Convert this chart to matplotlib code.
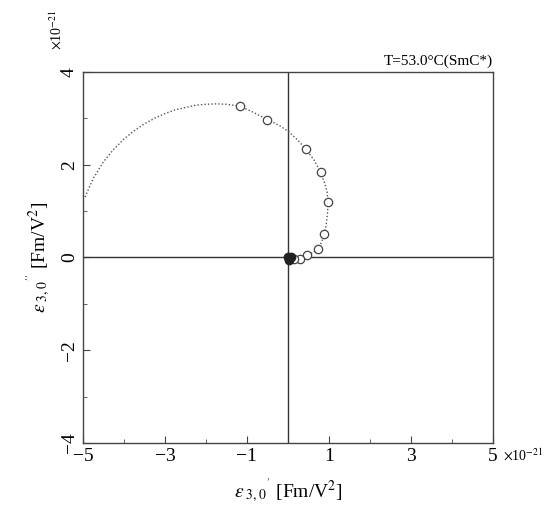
import matplotlib.pyplot as plt
import numpy as np

plt.rcParams['font.family'] = ['Liberation Serif', 'DejaVu Serif']
plt.rcParams['mathtext.fontset'] = 'stix'

# fitted curve (units of 1e-21)
curve_x = [-4.95, -4.75, -4.5, -4.25, -4.0, -3.75, -3.5, -3.25, -3.0, -2.75,
           -2.5, -2.25, -2.0, -1.74, -1.5, -1.17, -0.85, -0.5, -0.2,
           0.02, 0.24, 0.44, 0.64, 0.8, 0.9, 0.96, 0.98, 0.97, 0.94, 0.89,
           0.82, 0.73, 0.6, 0.47, 0.3, 0.15, 0.05]
curve_y = [1.30, 1.70, 2.06, 2.33, 2.55, 2.73, 2.88, 3.00, 3.10, 3.18,
           3.23, 3.28, 3.30, 3.31, 3.30, 3.26, 3.13, 2.97, 2.84,
           2.71, 2.53, 2.33, 2.10, 1.83, 1.6, 1.4, 1.19, 0.97, 0.73, 0.5,
           0.32, 0.18, 0.1, 0.05, -0.01, -0.03, 0.0]

# measured points
pts_x = [-1.17, -0.5, 0.44, 0.8, 0.98, 0.89, 0.73, 0.47, 0.3, 0.15]
pts_y = [3.26, 2.97, 2.33, 1.83, 1.19, 0.5, 0.18, 0.05, -0.04, -0.03]
low_x = [0.0, 0.04, 0.08]
low_y = [0.0, -0.05, 0.0]

xticks = [-5, -3, -1, 1, 3, 5]
yticks = [-4, -2, 0, 2, 4]

fig = plt.figure(figsize=(5.53, 5.28), dpi=100)
ax = fig.add_axes([0.150, 0.161, 0.741, 0.703])

ax.axhline(0, color='#333333', lw=1.0)
ax.axvline(0, color='#333333', lw=1.0)
ax.plot(curve_x, curve_y, ls=(0, (1, 1.5)), color='#555555', lw=1.0)
ax.plot(pts_x, pts_y, 'o', mfc='white', mec='#444444', ms=6, mew=0.9)
ax.plot(low_x, low_y, 'o', color='#222222', ms=6)

ax.set_xlim(-5, 5)
ax.set_ylim(-4, 4)
ax.set_xticks(xticks)
ax.set_xticks(range(-5, 6), minor=True)
ax.set_yticks(yticks)
ax.set_yticks(range(-4, 5), minor=True)
ax.tick_params(which='both', direction='in', labelsize=14, color='#444444')
ax.tick_params(which='major', length=5)
ax.tick_params(which='minor', length=3)
for lab in ax.get_yticklabels():
    lab.set_rotation(90)
    lab.set_va('center')
for s in ax.spines.values():
    s.set_color('#444444')
    s.set_linewidth(1.0)

ax.set_xlabel(r"$\varepsilon_{\ 3,0}{}^{'}$ [Fm/V$^2$]", fontsize=14, labelpad=8)
ax.set_ylabel(r"$\varepsilon_{\ 3,0}{}^{''}$ [Fm/V$^2$]", fontsize=14, labelpad=6)

ax.text(1.025, -0.055, r"$\times$10$^{-21}$", transform=ax.transAxes, fontsize=10,
        ha='left', va='bottom')
ax.text(-0.085, 1.06, r"$\times$10$^{-21}$", transform=ax.transAxes, fontsize=10,
        ha='left', va='bottom', rotation=90)
ax.text(1.0, 1.01, "T=53.0°C(SmC*)", transform=ax.transAxes, fontsize=11,
        ha='right', va='bottom')

fig.savefig('out.png', dpi=100)
